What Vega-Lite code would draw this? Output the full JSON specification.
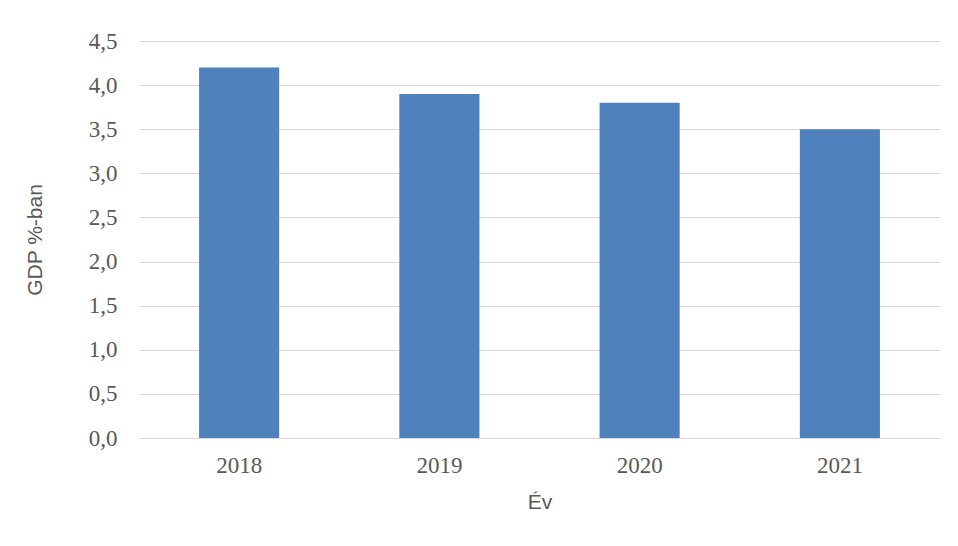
{
  "$schema": "https://vega.github.io/schema/vega-lite/v6.json",
  "width": 801,
  "height": 397,
  "padding": {"left": 24, "top": 30, "right": 17, "bottom": 10},
  "background": "white",
  "data": {"values": [
    {"ev": "2018", "gdp": 4.2},
    {"ev": "2019", "gdp": 3.9},
    {"ev": "2020", "gdp": 3.8},
    {"ev": "2021", "gdp": 3.5}
  ]},
  "mark": {"type": "bar", "color": "#4f81bd"},
  "encoding": {
    "x": {
      "field": "ev", "type": "ordinal", "title": "Év",
      "scale": {"paddingInner": 0.6, "paddingOuter": 0.3},
      "axis": {
        "labelAngle": 0, "labelFont": "Liberation Serif", "labelFontSize": 23, "labelColor": "#595959",
        "labelPadding": 16, "ticks": false, "domainColor": "#d9d9d9", "domainWidth": 1,
        "titleFont": "Liberation Sans", "titleFontSize": 21, "titleFontWeight": "normal", "titleColor": "#595959", "titlePadding": 14
      }
    },
    "y": {
      "field": "gdp", "type": "quantitative", "title": "GDP %-ban",
      "scale": {"domain": [0, 4.5]},
      "axis": {
        "values": [0, 0.5, 1, 1.5, 2, 2.5, 3, 3.5, 4, 4.5],
        "labelExpr": "replace(format(datum.value, '.1f'), '.', ',')",
        "labelFont": "Liberation Serif", "labelFontSize": 23, "labelColor": "#595959",
        "labelPadding": 22, "ticks": false, "domain": false,
        "gridColor": "#d9d9d9", "gridWidth": 1,
        "titleFont": "Liberation Sans", "titleFontSize": 21, "titleFontWeight": "normal", "titleColor": "#595959", "titlePadding": 43
      }
    }
  },
  "config": {"view": {"stroke": null}}
}
